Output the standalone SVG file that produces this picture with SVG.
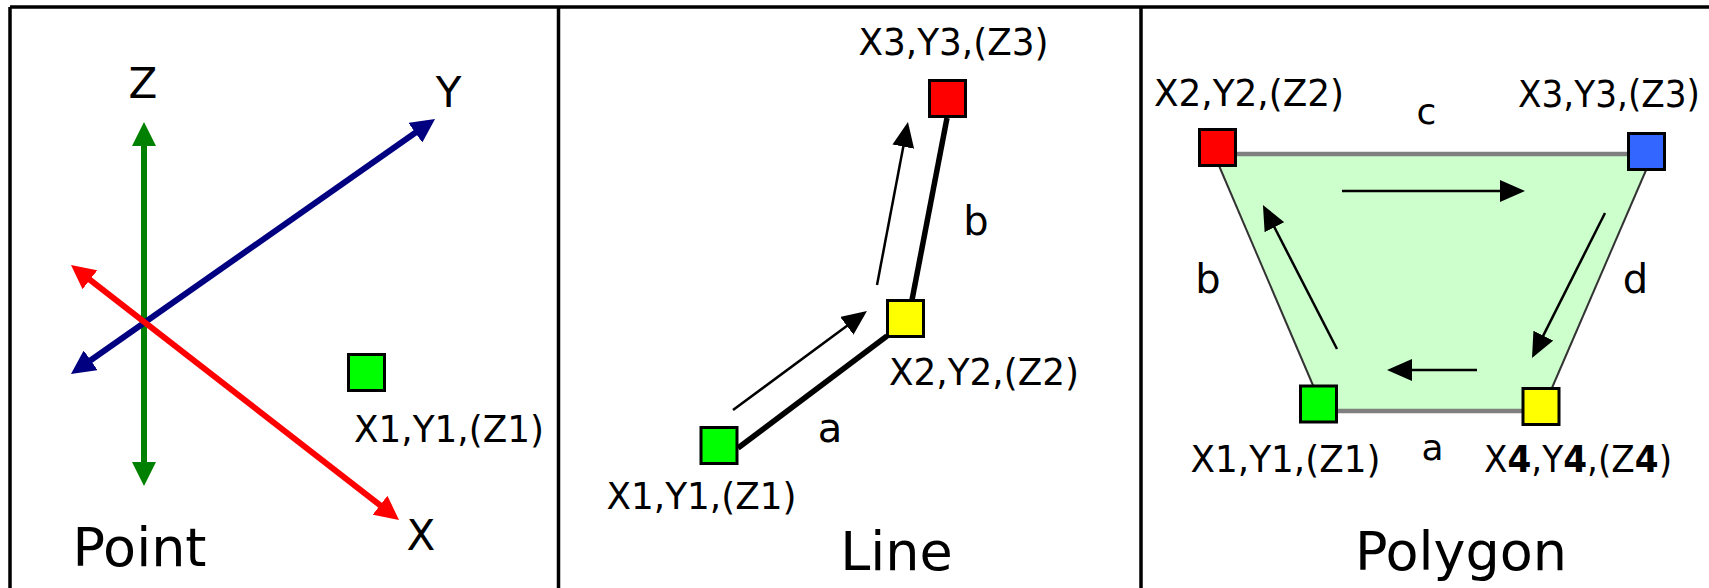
<svg xmlns="http://www.w3.org/2000/svg" width="1709" height="588" viewBox="0 0 1709 588">
<defs>
<marker id="hG" viewBox="0 0 24 24" refX="6" refY="12" markerWidth="24" markerHeight="24" markerUnits="userSpaceOnUse" orient="auto-start-reverse"><path d="M0,0 L24,12 L0,24 z" fill="#008000"/></marker>
<marker id="hB" viewBox="0 0 24 24" refX="6" refY="12" markerWidth="24" markerHeight="24" markerUnits="userSpaceOnUse" orient="auto-start-reverse"><path d="M0,0 L24,12 L0,24 z" fill="#000080"/></marker>
<marker id="hR" viewBox="0 0 24 24" refX="6" refY="12" markerWidth="24" markerHeight="24" markerUnits="userSpaceOnUse" orient="auto-start-reverse"><path d="M0,0 L24,12 L0,24 z" fill="#ff0000"/></marker>
<marker id="hK" viewBox="0 0 25 22" refX="7" refY="11" markerWidth="25" markerHeight="22" markerUnits="userSpaceOnUse" orient="auto"><path d="M0,0 L25,11 L0,22 z" fill="#000"/></marker>
</defs>
<style>
.t{font-family:"DejaVu Sans",Verdana,sans-serif;fill:#000;text-anchor:middle}
.lbl{font-size:38px}
.ttl{font-size:54px}
.ax{font-size:42px}
.lc{font-size:40px}
.sq{stroke:#000;stroke-width:3}
.thin{stroke:#000;stroke-width:2.5;fill:none;marker-end:url(#hK)}
.thick{stroke:#000;stroke-width:5.5;fill:none}
.edge{stroke:#7f7f7f;stroke-width:4.3;fill:none}
.side{stroke:#333;stroke-width:2;fill:none}
.frame{stroke:#000;stroke-width:3.5;fill:none}
</style>
<rect width="1709" height="588" fill="#fff"/>
<g id="frame">
<path class="frame" d="M10,7 H1709 M10,7 V588 M558.5,7 V588 M1141,7 V588"/>
</g>

<!-- Panel 1: Point -->
<g id="axes">
<line x1="144" y1="140" x2="144" y2="468" stroke="#008000" stroke-width="6" marker-start="url(#hG)" marker-end="url(#hG)"/>
<line x1="85.7" y1="363.7" x2="420.3" y2="129.3" stroke="#000080" stroke-width="6" marker-start="url(#hB)" marker-end="url(#hB)"/>
<line x1="85.2" y1="276.1" x2="384.8" y2="508.9" stroke="#ff0000" stroke-width="6" marker-start="url(#hR)" marker-end="url(#hR)"/>
<text class="t ax" x="143" y="98">Z</text>
<text class="t ax" x="448.5" y="107">Y</text>
<text class="t ax" x="421" y="550">X</text>
</g>
<g id="p1-point">
<rect class="sq" x="348.5" y="354.5" width="36" height="36" fill="#00ff00"/>
<text class="t lbl" x="449" y="442" textLength="190" lengthAdjust="spacingAndGlyphs">X1,Y1,(Z1)</text>
</g>
<g id="p1-title"><text class="t ttl" x="139.5" y="566">Point</text></g>

<!-- Connectors -->
<g id="connectors">
<line class="thick" x1="947" y1="118" x2="912" y2="300"/>
<line class="thick" x1="887" y1="336" x2="738" y2="448"/>
<line class="thin" x1="877" y1="285" x2="904.6" y2="139.7"/>
<line class="thin" x1="733" y1="410" x2="852.5" y2="321.7"/>
<polygon points="1214,154 1653,154 1542,411 1324,411" fill="#ccffcc" stroke="none"/>
<line class="edge" x1="1214" y1="154" x2="1653" y2="154"/>
<line class="edge" x1="1324" y1="411" x2="1542" y2="411"/>
<line class="side" x1="1214" y1="154" x2="1324" y2="411"/>
<line class="side" x1="1653" y1="154" x2="1542" y2="411"/>
<line class="thin" x1="1342" y1="191" x2="1507" y2="191"/>
<line class="thin" x1="1605" y1="213" x2="1540.1" y2="341.9"/>
<line class="thin" x1="1477" y1="370" x2="1405" y2="370"/>
<line class="thin" x1="1337" y1="349" x2="1271.2" y2="221"/>
<text class="t lc" x="830" y="442">a</text>
<text class="t lc" x="976" y="235">b</text>
<text class="t lc" x="1426.5" y="124" style="font-size:36px">c</text>
<text class="t lc" x="1208" y="293">b</text>
<text class="t lc" x="1635.5" y="293">d</text>
<text class="t lc" x="1432.5" y="460" style="font-size:36px">a</text>
</g>

<!-- Panel 2: Line -->
<g id="l-p3">
<rect class="sq" x="929.5" y="80.5" width="36" height="36" fill="#ff0000"/>
<text class="t lbl" x="953.5" y="55" textLength="190" lengthAdjust="spacingAndGlyphs">X3,Y3,(Z3)</text>
</g>
<g id="l-p2">
<rect class="sq" x="887.5" y="300.5" width="36" height="36" fill="#ffff00"/>
<text class="t lbl" x="984" y="385" textLength="190" lengthAdjust="spacingAndGlyphs">X2,Y2,(Z2)</text>
</g>
<g id="l-p1">
<rect class="sq" x="701" y="427.5" width="36" height="36" fill="#00ff00"/>
<text class="t lbl" x="701.5" y="509" textLength="190" lengthAdjust="spacingAndGlyphs">X1,Y1,(Z1)</text>
</g>
<g id="l-title"><text class="t ttl" x="896.5" y="570">Line</text></g>

<!-- Panel 3: Polygon -->
<g id="g-p2">
<rect class="sq" x="1199.5" y="129.5" width="36" height="36" fill="#ff0000"/>
<text class="t lbl" x="1249" y="106" textLength="190" lengthAdjust="spacingAndGlyphs">X2,Y2,(Z2)</text>
</g>
<g id="g-p3">
<rect class="sq" x="1628.5" y="133.5" width="36" height="36" fill="#3366ff"/>
<text class="t" x="1609" y="107" style="font-size:36.5px" textLength="182" lengthAdjust="spacingAndGlyphs">X3,Y3,(Z3)</text>
</g>
<g id="g-p1">
<rect class="sq" x="1300.5" y="386" width="36" height="36" fill="#00ff00"/>
<text class="t lbl" x="1285.5" y="472" textLength="190" lengthAdjust="spacingAndGlyphs">X1,Y1,(Z1)</text>
</g>
<g id="g-p4">
<rect class="sq" x="1523" y="388.5" width="36" height="36" fill="#ffff00"/>
<text class="t lbl" x="1578" y="472" textLength="188" lengthAdjust="spacingAndGlyphs">X<tspan font-weight="bold">4</tspan>,Y<tspan font-weight="bold">4</tspan>,(Z<tspan font-weight="bold">4</tspan>)</text>
</g>
<g id="g-title"><text class="t ttl" x="1461" y="570">Polygon</text></g>
</svg>
